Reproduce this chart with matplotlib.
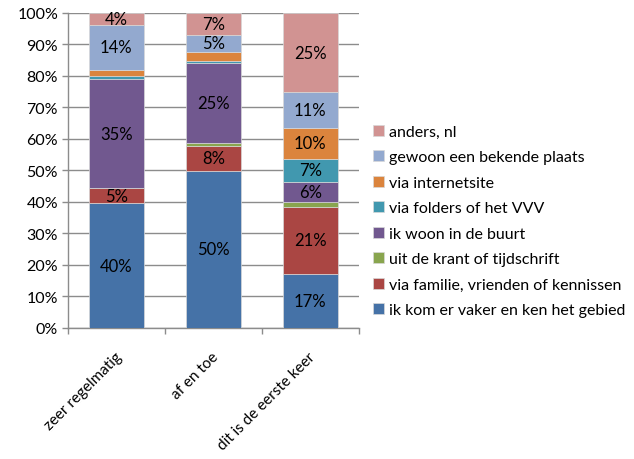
import matplotlib
matplotlib.use("Agg")
import matplotlib.pyplot as plt
import matplotlib.transforms as mtransforms
import numpy as np

plt.rcParams['font.family'] = ['Lato', 'DejaVu Sans']

categories = ['zeer regelmatig', 'af en toe', 'dit is de eerste keer']

series_names = [
    'ik kom er vaker en ken het gebied',
    'via familie, vrienden of kennissen',
    'uit de krant of tijdschrift',
    'ik woon in de buurt',
    'via folders of het VVV',
    'via internetsite',
    'gewoon een bekende plaats',
    'anders, nl',
]

# percentages per category, bottom to top
kom_vaker = [39.6, 49.9, 17.2]
familie = [4.7, 7.8, 21.3]
krant = [0.0, 1.1, 1.5]
woon_buurt = [34.7, 25.4, 6.3]
folders = [1.0, 0.6, 7.4]
internet = [2.0, 2.9, 9.7]
bekende_plaats = [14.1, 5.4, 11.4]
anders = [3.9, 6.9, 25.2]

colors = ['#4572A7', '#AA4643', '#89A54E', '#71588F',
          '#4198AF', '#DB843D', '#93A9CF', '#D19392']

series = [kom_vaker, familie, krant, woon_buurt,
          folders, internet, bekende_plaats, anders]

FS = 11.5

fig = plt.figure(figsize=(6.34, 4.6), dpi=100)
ax = fig.add_axes([0.107, 0.285, 0.459, 0.685])

x = np.arange(len(categories))
bottom = np.zeros(len(categories))
handles = []
for name, vals, col in zip(series_names, series, colors):
    vals = np.array(vals)
    bars = ax.bar(x, vals, 0.57, bottom=bottom, color=col,
                  edgecolor='#d8d8d8', linewidth=0.5, label=name, zorder=3)
    handles.append(bars)
    for xi, v, b in zip(x, vals, bottom):
        if v >= 3.5:
            ax.text(xi, b + v / 2, f'{v:.0f}%', ha='center', va='center',
                    fontsize=12, color='black', zorder=4)
    bottom += vals

ax.set_xlim(-0.5, 2.5)
ax.set_ylim(0, 100)
ax.set_yticks(np.arange(0, 101, 10))
ax.set_yticklabels([f'{t}%' for t in range(0, 101, 10)], fontsize=FS)
ax.yaxis.grid(True, color='#8c8c8c', linewidth=1.0, zorder=0)

ax.set_xticks(x)
ax.set_xticklabels(categories, rotation=45, ha='right', va='center',
                   rotation_mode='anchor', fontsize=11)
ax.tick_params(axis='x', which='major', length=0, pad=19)
shift = mtransforms.ScaledTranslation(3 / 100, 0, fig.dpi_scale_trans)
for lbl in ax.get_xticklabels():
    lbl.set_transform(lbl.get_transform() + shift)
ax.set_xticks([-0.5, 0.5, 1.5, 2.5], minor=True)
ax.tick_params(axis='x', which='minor', length=4, color='#8c8c8c', width=1)
ax.tick_params(axis='y', length=4, color='#8c8c8c', width=1, pad=3)

for s in ['top', 'right']:
    ax.spines[s].set_visible(False)
for s in ['left', 'bottom']:
    ax.spines[s].set_color('#8c8c8c')
    ax.spines[s].set_linewidth(1.0)

leg = fig.legend(handles[::-1], series_names[::-1], loc='upper left',
                 bbox_to_anchor=(0.578, 0.741), frameon=False,
                 fontsize=FS, handlelength=0.7, handleheight=0.7,
                 handletextpad=0.3, labelspacing=0.71, borderaxespad=0)

fig.savefig('out.png', dpi=100)
